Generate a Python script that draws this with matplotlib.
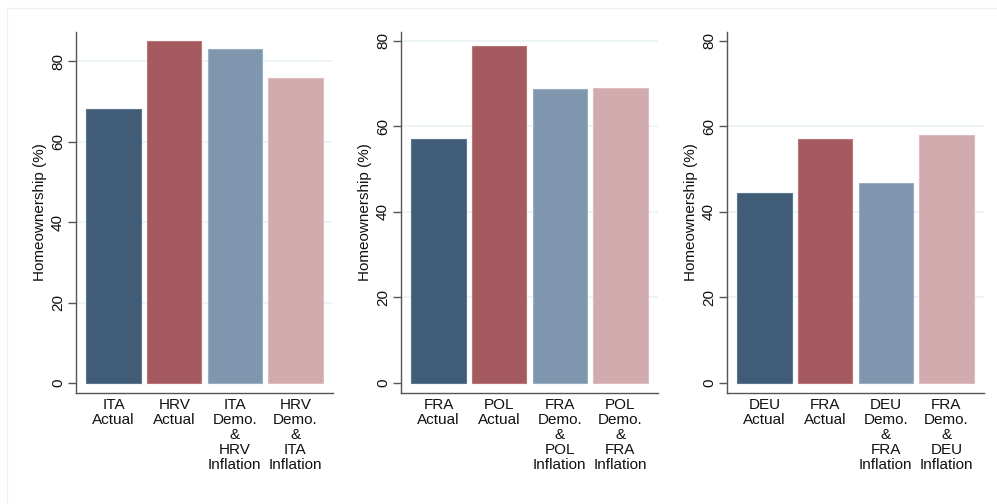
import matplotlib
matplotlib.use('Agg')
import matplotlib.pyplot as plt
from matplotlib.lines import Line2D

plt.rcParams['font.family'] = ['Liberation Sans', 'DejaVu Sans']

# bar labels per panel
labels_1 = ['ITA\nActual', 'HRV\nActual', 'ITA\nDemo.\n&\nHRV\nInflation', 'HRV\nDemo.\n&\nITA\nInflation']
labels_2 = ['FRA\nActual', 'POL\nActual', 'FRA\nDemo.\n&\nPOL\nInflation', 'POL\nDemo.\n&\nFRA\nInflation']
labels_3 = ['DEU\nActual', 'FRA\nActual', 'DEU\nDemo.\n&\nFRA\nInflation', 'FRA\nDemo.\n&\nDEU\nInflation']

# homeownership (%)
values_1 = [68.1, 85.0, 83.0, 75.9]
values_2 = [56.9, 78.8, 68.7, 69.0]
values_3 = [44.3, 56.9, 46.8, 58.0]

yticks = [0, 20, 40, 60, 80]
colors = ['#415c76', '#a45a5f', '#7f97ae', '#d2abaf']
edges = ['#5a7590', '#b8767b', '#9aafc3', '#dcbcbf']

W, H = 997, 504
fig = plt.figure(figsize=(W / 100, H / 100), dpi=100)

# faint frame lines at top and left
fig.add_artist(Line2D([7 / W, 1], [1 - 8 / H, 1 - 8 / H], color='#f0f0f0', lw=1))
fig.add_artist(Line2D([7 / W, 7 / W], [0, 1 - 8 / H], color='#f0f0f0', lw=1))

panels = [
    (76, 333, labels_1, values_1, (-2.4, 87.3), [20, 40, 60, 80]),
    (401, 658, labels_2, values_2, (-2.34, 82.1), [20, 40, 60, 80]),
    (727, 984, labels_3, values_3, (-2.34, 82.1), [20, 40, 60]),
]
top, bottom = 31.7, 392.7

for left, right, labels, values, ylim, grid in panels:
    ax = fig.add_axes([left / W, 1 - bottom / H, (right - left) / W, (bottom - top) / H])
    x = list(range(len(values)))
    for g in grid:
        ax.axhline(g, color='#eaf2f3', lw=1.2, zorder=0)
    ax.bar(x, values, width=0.9, color=colors, edgecolor=edges, linewidth=0.8, zorder=2)
    ax.set_xlim(-0.62, 3.62)
    ax.set_ylim(*ylim)
    ax.set_yticks(yticks)
    ax.set_xticks(x)
    ax.set_xticklabels(labels, fontsize=11, linespacing=1.08, color='#111111')
    ax.tick_params(axis='x', length=0, pad=4)
    ax.tick_params(axis='y', length=6, width=1, color='#555555', labelsize=11,
                   labelrotation=90, pad=2, labelcolor='#111111')
    for lab in ax.get_yticklabels():
        lab.set_va('center')
    ax.set_ylabel('Homeownership (%)', fontsize=11, labelpad=3, color='#111111')
    for side in ['top', 'right']:
        ax.spines[side].set_visible(False)
    for side in ['left', 'bottom']:
        ax.spines[side].set_color('#555555')
        ax.spines[side].set_linewidth(1)

fig.savefig('out.png', dpi=100, facecolor='white')
